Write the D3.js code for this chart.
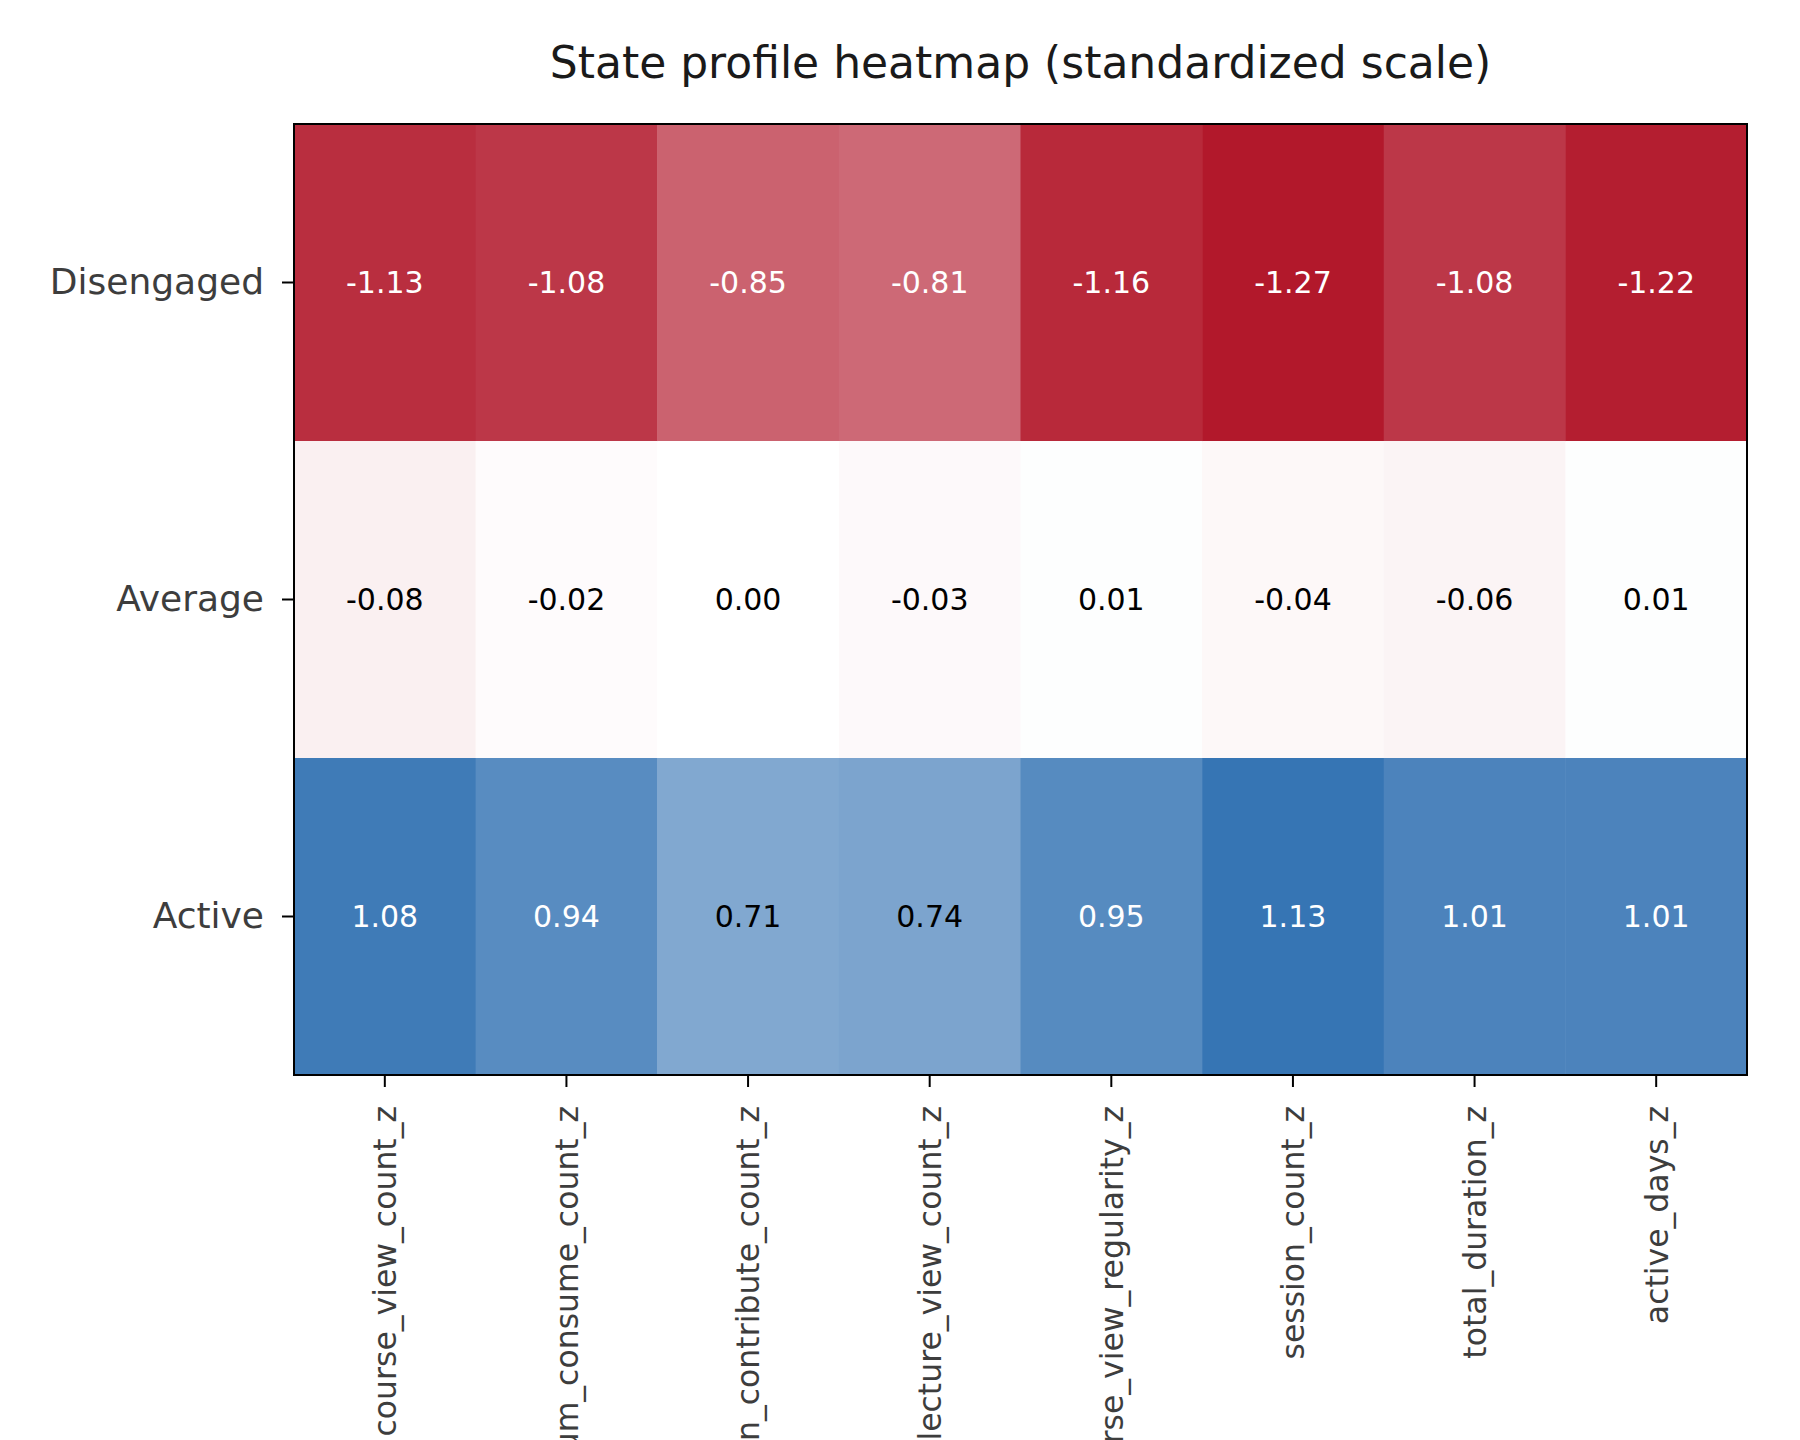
<!DOCTYPE html>
<html>
<head>
<meta charset="utf-8">
<script src="https://cdn.jsdelivr.net/npm/d3@7"></script>
<style>
  body { margin: 0; background: #fff; }
  svg text { font-family: "DejaVu Sans", sans-serif; }
</style>
</head>
<body>
<div id="chart"></div>
<script>
// rows of the heatmap, top to bottom
const states = ['Disengaged', 'Average', 'Active'];

// feature columns, left to right
const features = [
  'course_view_count_z',
  'forum_consume_count_z',
  'discussion_contribute_count_z',
  'lecture_view_count_z',
  'course_view_regularity_z',
  'session_count_z',
  'total_duration_z',
  'active_days_z',
];

// standardized values per state, same order as features
const disengagedValues = [-1.13, -1.08, -0.85, -0.81, -1.16, -1.27, -1.08, -1.22];
const averageValues = [-0.08, -0.02, 0.00, -0.03, 0.01, -0.04, -0.06, 0.01];
const activeValues = [1.08, 0.94, 0.71, 0.74, 0.95, 1.13, 1.01, 1.01];

const valueRows = [disengagedValues, averageValues, activeValues];

const width = 1800;
const height = 1440;
const margin = { top: 124, right: 53, bottom: 365, left: 294 };
const chartWidth = width - margin.left - margin.right;
const chartHeight = height - margin.top - margin.bottom;

const svg = d3.select('#chart').append('svg')
  .attr('width', width)
  .attr('height', height);

// flatten to cells
const cells = [];
states.forEach((state, i) => {
  features.forEach((feature, j) => {
    cells.push({ state, feature, value: valueRows[i][j] });
  });
});

const xScale = d3.scaleBand().domain(features).range([0, chartWidth]).padding(0);
const yScale = d3.scaleBand().domain(states).range([0, chartHeight]).padding(0);

// red -> white -> blue, symmetric around zero
const vmax = 1.25;
const color = d3.scaleLinear()
  .domain([-vmax, 0, vmax])
  .range(['#b2182b', '#ffffff', '#2166ac'])
  .interpolate(d3.interpolateRgb)
  .clamp(true);

// plain hyphen for negatives, like the source
const fmt = v => v.toFixed(2);

const g = svg.append('g').attr('transform', `translate(${margin.left},${margin.top})`);

g.selectAll('rect.cell')
  .data(cells)
  .join('rect')
    .attr('class', 'cell')
    .attr('x', d => xScale(d.feature))
    .attr('y', d => yScale(d.state))
    .attr('width', xScale.bandwidth() + 0.5)
    .attr('height', yScale.bandwidth() + 0.5)
    .attr('fill', d => color(d.value))
;

// value labels
g.selectAll('text.val')
  .data(cells)
  .join('text')
    .attr('class', 'val')
    .attr('x', d => xScale(d.feature) + xScale.bandwidth() / 2)
    .attr('y', d => yScale(d.state) + yScale.bandwidth() / 2)
    .attr('text-anchor', 'middle')
    .attr('dy', '0.36em')
    .attr('font-size', '30px')
    .attr('fill', d => (Math.abs(d.value) > 0.6 * vmax ? '#ffffff' : '#000000'))
    .text(d => fmt(d.value))
;

// frame
g.append('rect')
  .attr('width', chartWidth)
  .attr('height', chartHeight)
  .attr('fill', 'none')
  .attr('stroke', '#000')
  .attr('stroke-width', 2);

// y axis
const yAxis = g.append('g')
  .call(d3.axisLeft(yScale).tickSize(12).tickSizeOuter(0).tickPadding(18));
yAxis.select('.domain').remove();
yAxis.selectAll('line').attr('stroke', '#000').attr('stroke-width', 2);
yAxis.selectAll('text')
  .attr('font-size', '36px')
  .attr('fill', '#3d3d3d');

// x axis with vertical labels
const xAxis = g.append('g')
  .attr('transform', `translate(0,${chartHeight})`)
  .call(d3.axisBottom(xScale).tickSize(12).tickSizeOuter(0));
xAxis.select('.domain').remove();
xAxis.selectAll('line').attr('stroke', '#000').attr('stroke-width', 2);
xAxis.selectAll('text')
  .attr('font-size', '31.5px')
  .attr('fill', '#3d3d3d')
  .attr('transform', 'rotate(-90)')
  .attr('text-anchor', 'end')
  .attr('x', -31)
  .attr('y', 0)
  .attr('dy', '0.36em');

// title
svg.append('text')
  .attr('x', margin.left + chartWidth / 2)
  .attr('y', 78)
  .attr('text-anchor', 'middle')
  .attr('font-size', '44px')
  .attr('fill', '#1a1a1a')
  .text('State profile heatmap (standardized scale)');
</script>
</body>
</html>
